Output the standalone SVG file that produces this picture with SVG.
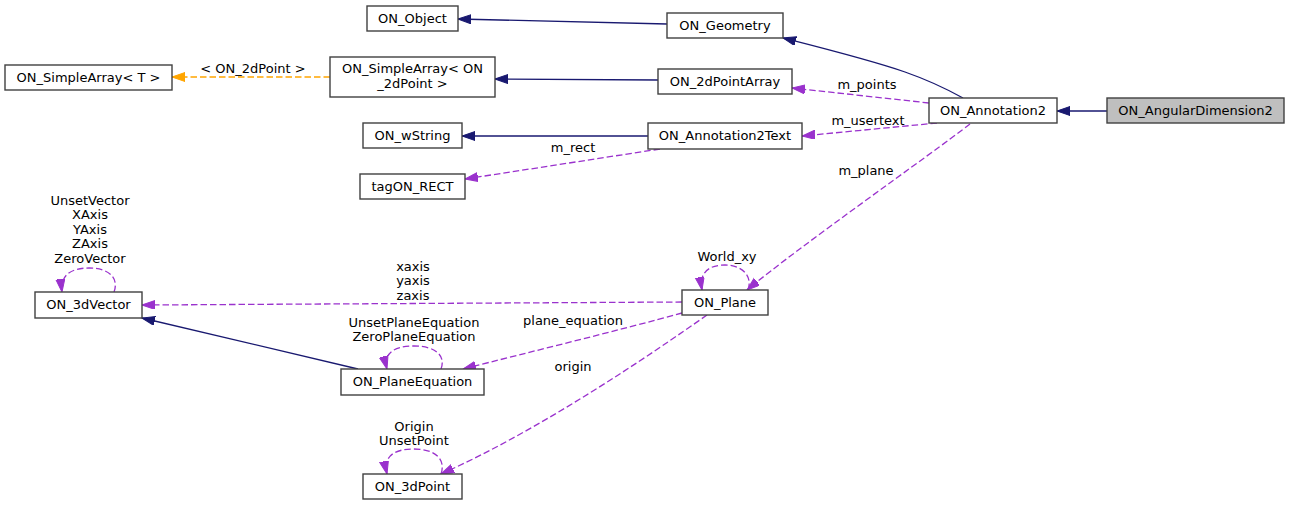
<svg xmlns="http://www.w3.org/2000/svg" width="1289" height="505" viewBox="0 0 1289 505">
<style>
text{font-family:"DejaVu Sans",sans-serif;font-size:13px;fill:#000;text-anchor:middle}
.box{fill:#fff;stroke:#404040;stroke-width:1.4}
.sel{fill:#bfbfbf;stroke:#404040;stroke-width:1.4}
.inh{fill:none;stroke:#191970;stroke-width:1.3;marker-end:url(#ab)}
.use{fill:none;stroke:#9a32cd;stroke-width:1.3;stroke-dasharray:6.5,3;marker-end:url(#ap)}
.tpl{fill:none;stroke:#ffa500;stroke-width:1.3;stroke-dasharray:6.5,3;marker-end:url(#ao)}
</style>
<defs>
<marker id="ab" markerWidth="14" markerHeight="10" refX="13" refY="4.5" orient="auto" markerUnits="userSpaceOnUse"><path d="M0,0 L13,4.5 L0,9 z" fill="#191970" stroke="#191970"/></marker>
<marker id="ap" markerWidth="14" markerHeight="10" refX="13" refY="4.5" orient="auto" markerUnits="userSpaceOnUse"><path d="M0,0 L13,4.5 L0,9 z" fill="#9a32cd" stroke="#9a32cd"/></marker>
<marker id="ao" markerWidth="14" markerHeight="10" refX="13" refY="4.5" orient="auto" markerUnits="userSpaceOnUse"><path d="M0,0 L13,4.5 L0,9 z" fill="#ffa500" stroke="#ffa500"/></marker>
</defs>
<rect width="1289" height="505" fill="#fff"/>
<g id="edges">
<path class="inh" d="M667,24 L458,19"/>
<path class="inh" d="M963,98 C945,88 925,79 905,72 C870,60 830,50 783,38"/>
<path class="inh" d="M1107,111 L1057,111"/>
<path class="tpl" d="M330,77 L172,77"/>
<text x="253" y="73">&lt; ON_2dPoint &gt;</text>
<path class="inh" d="M658,80 L495,79"/>
<path class="use" d="M929,103 L792,88"/>
<text x="867" y="89">m_points</text>
<path class="use" d="M937,123 L802,136"/>
<text x="868" y="125">m_usertext</text>
<path class="inh" d="M648,136 L462,136"/>
<path class="use" d="M660,149 L465,179"/>
<text x="573" y="152">m_rect</text>
<path class="use" d="M970,124 C930,155 800,246 747,290"/>
<text x="866" y="175">m_plane</text>
<path class="use" d="M748,290 C753,276 742,265 725,265 C708,265 699,273 702,290"/>
<text x="727" y="261">World_xy</text>
<path class="use" d="M682,302 L142,305"/>
<text x="413" y="271">xaxis</text>
<text x="413" y="285">yaxis</text>
<text x="413" y="300">zaxis</text>
<path class="use" d="M682,313 C620,330 530,352 463,369"/>
<text x="573" y="325">plane_equation</text>
<path class="use" d="M707,315 C650,355 540,430 441,474"/>
<text x="573" y="371">origin</text>
<path class="inh" d="M358,369 L142,318"/>
<path class="use" d="M114,292 C119,279 110,268 89,268 C70,268 60,276 62,292"/>
<text x="90" y="205">UnsetVector</text>
<text x="90" y="219">XAxis</text>
<text x="90" y="234">YAxis</text>
<text x="90" y="248">ZAxis</text>
<text x="90" y="263">ZeroVector</text>
<path class="use" d="M441,369 C446,356 436,346 414,346 C393,346 383,354 387,369"/>
<text x="414" y="327">UnsetPlaneEquation</text>
<text x="414" y="341">ZeroPlaneEquation</text>
<path class="use" d="M441,474 C446,460 436,449 414,449 C393,449 383,457 387,474"/>
<text x="414" y="431">Origin</text>
<text x="414" y="445">UnsetPoint</text>
</g>
<g id="ON_AngularDimension2"><rect class="sel" x="1107" y="98" width="177" height="25"/><text x="1195.5" y="115">ON_AngularDimension2</text></g>
<g id="ON_Annotation2"><rect class="box" x="929" y="98" width="128" height="25"/><text x="993" y="115">ON_Annotation2</text></g>
<g id="ON_Geometry"><rect class="box" x="667" y="13" width="116" height="25"/><text x="725" y="30">ON_Geometry</text></g>
<g id="ON_Object"><rect class="box" x="367" y="6" width="91" height="25"/><text x="412.5" y="23">ON_Object</text></g>
<g id="ON_2dPointArray"><rect class="box" x="658" y="69" width="134" height="25"/><text x="725" y="86">ON_2dPointArray</text></g>
<g id="ON_SimpleArray_ON_2dPoint"><rect class="box" x="330" y="57" width="165" height="40"/><text x="412.5" y="73">ON_SimpleArray&lt; ON</text><text x="412.5" y="88">_2dPoint &gt;</text></g>
<g id="ON_SimpleArray_T"><rect class="box" x="5" y="65" width="167" height="25"/><text x="88.5" y="82">ON_SimpleArray&lt; T &gt;</text></g>
<g id="ON_Annotation2Text"><rect class="box" x="648" y="123" width="154" height="26"/><text x="725" y="140">ON_Annotation2Text</text></g>
<g id="ON_wString"><rect class="box" x="363" y="123" width="99" height="25"/><text x="412.5" y="140">ON_wString</text></g>
<g id="tagON_RECT"><rect class="box" x="360" y="174" width="105" height="25"/><text x="412.5" y="191">tagON_RECT</text></g>
<g id="ON_Plane"><rect class="box" x="682" y="290" width="86" height="25"/><text x="725" y="307">ON_Plane</text></g>
<g id="ON_3dVector"><rect class="box" x="35" y="292" width="107" height="26"/><text x="88.5" y="309">ON_3dVector</text></g>
<g id="ON_PlaneEquation"><rect class="box" x="341" y="369" width="143" height="26"/><text x="412.5" y="386">ON_PlaneEquation</text></g>
<g id="ON_3dPoint"><rect class="box" x="363" y="474" width="99" height="25"/><text x="412.5" y="491">ON_3dPoint</text></g>
</svg>
